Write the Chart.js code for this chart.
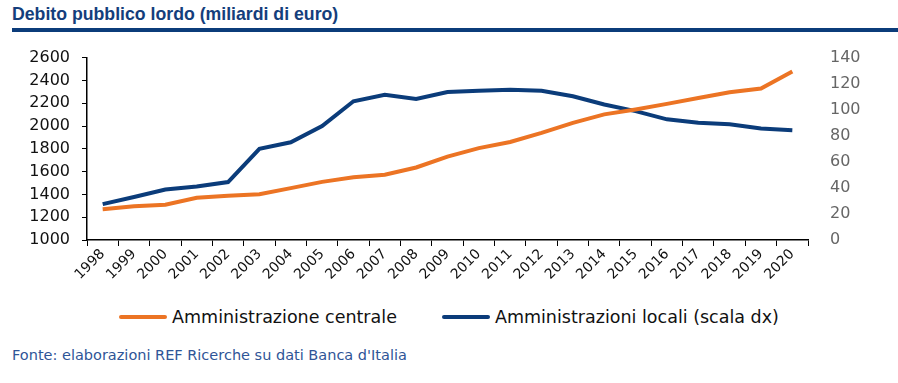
<!DOCTYPE html>
<html>
<head>
<meta charset="utf-8">
<script src="https://cdn.jsdelivr.net/npm/chart.js@4/dist/chart.umd.min.js"></script>
<style>
  body { margin: 0; background: #fff; width: 898px; height: 383px; position: relative; overflow: hidden; font-family: 'DejaVu Sans', sans-serif; }
  .title { position: absolute; left: 12px; top: 4px; font: bold 17.7px 'Liberation Sans', sans-serif; color: #143e7c; }
  .rule { position: absolute; left: 12px; right: 0; top: 28px; height: 4px; background: #0b3c7a; }
  .chart-wrap { position: absolute; left: 0; top: 34px; width: 898px; height: 266px; }
  .legend { position: absolute; left: 0; top: 307px; width: 898px; display: flex; justify-content: center; gap: 45px; font-size: 17.5px; color: #111; }
  .legend span { display: flex; align-items: center; }
  .legend i { display: inline-block; width: 48px; height: 4px; border-radius: 2px; margin-right: 5px; }
  .source { position: absolute; left: 12px; top: 347px; font-size: 14.5px; color: #2f5597; }
</style>
</head>
<body>
<div class="title">Debito pubblico lordo (miliardi di euro)</div>
<div class="rule"></div>
<div class="chart-wrap"><canvas id="debt"></canvas></div>
<div class="legend" id="legend"></div>
<div class="source">Fonte: elaborazioni REF Ricerche su dati Banca d'Italia</div>
<script>
const years = ['1998','1999','2000','2001','2002','2003','2004','2005','2006','2007','2008','2009','2010','2011','2012','2013','2014','2015','2016','2017','2018','2019','2020'];
// miliardi di euro, scala sx
const centrale = [1270, 1295, 1310, 1370, 1388, 1402, 1455, 1510, 1550, 1572, 1636, 1732, 1806, 1860, 1940, 2028, 2102, 2145, 2194, 2245, 2296, 2328, 2478];
// miliardi di euro, scala dx
const locali = [27.5, 33, 38.8, 41, 44.5, 70, 75, 87.5, 106.5, 111.5, 108.3, 113.6, 114.6, 115.4, 114.6, 110.3, 104, 98.9, 92.6, 90, 88.8, 85.5, 84.2];

const ORANGE = '#ec7424', BLUE = '#0b3c7a';

const chart = new Chart(document.getElementById('debt').getContext('2d'), {
  type: 'line',
  data: { labels: years, datasets: [
    { label: 'Amministrazione centrale', data: centrale, yAxisID: 'y', borderColor: ORANGE, backgroundColor: ORANGE, borderWidth: 4, pointRadius: 0, tension: 0 },
    { label: 'Amministrazioni locali (scala dx)', data: locali, yAxisID: 'y2', borderColor: BLUE, backgroundColor: BLUE, borderWidth: 4, pointRadius: 0, tension: 0 },
  ]},
  options: {
    responsive: true, maintainAspectRatio: false, animation: false,
    layout: { padding: { top: 8, bottom: 6 } },
    plugins: { tooltip: { enabled: false }, legend: { display: false } },
    scales: {
      x: { offset: true,
        grid: { offset: true, drawOnChartArea: false, drawTicks: true, tickLength: 6, color: '#000' },
        border: { display: true, color: '#000', width: 1.5 },
        ticks: { minRotation: 45, maxRotation: 45, autoSkip: false, color: '#111', font: { size: 14, family: 'DejaVu Sans' }, padding: 0 },
        afterFit: s => { s.height = 54; } },
      y: { position: 'left', min: 1000, max: 2600,
        ticks: { stepSize: 200, autoSkip: false, color: '#111', font: { size: 16, family: 'DejaVu Sans' }, padding: 12, callback: v => String(v) },
        grid: { drawOnChartArea: false, drawTicks: true, tickLength: 5, color: '#000' },
        border: { display: true, color: '#000', width: 1.5 },
        afterFit: s => { s.width = 87; } },
      y2: { position: 'right', min: 0, max: 140,
        ticks: { stepSize: 20, autoSkip: false, color: '#666', font: { size: 16, family: 'DejaVu Sans' }, padding: 14, callback: v => String(v) },
        grid: { display: false }, border: { display: false },
        afterFit: s => { s.width = 90; } },
    },
  },
});

// legend as in the original figure
document.getElementById('legend').innerHTML = chart.data.datasets
  .map(d => `<span><i style="background:${d.borderColor}"></i>${d.label}</span>`).join('');
</script>
</body>
</html>
